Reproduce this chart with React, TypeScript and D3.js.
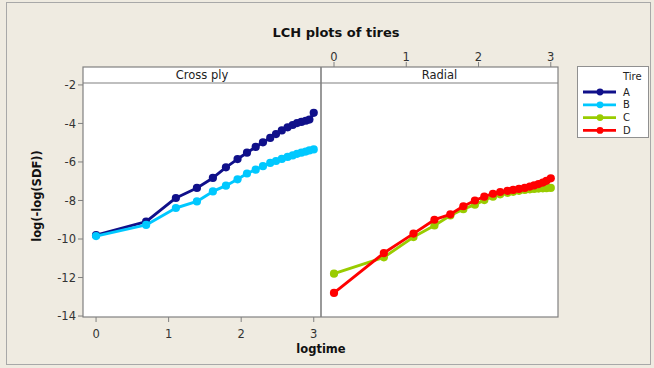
import * as d3 from "d3";

// logtime = ln(1..20)
const logtime = [0, 0.69, 1.1, 1.39, 1.61, 1.79, 1.95, 2.08, 2.2, 2.3, 2.4, 2.48, 2.56, 2.64, 2.71, 2.77, 2.83, 2.89, 2.94, 3.0];

const tireA = [-9.8, -9.1, -7.87, -7.35, -6.83, -6.28, -5.85, -5.52, -5.22, -4.98, -4.75, -4.55, -4.36, -4.2, -4.08, -3.98, -3.92, -3.86, -3.8, -3.45];
const tireB = [-9.85, -9.27, -8.39, -8.05, -7.53, -7.23, -6.9, -6.6, -6.4, -6.22, -6.05, -5.95, -5.84, -5.74, -5.66, -5.58, -5.52, -5.46, -5.4, -5.35];
const tireC = [-11.8, -10.95, -9.9, -9.3, -8.78, -8.45, -8.22, -7.98, -7.8, -7.68, -7.6, -7.55, -7.5, -7.45, -7.42, -7.4, -7.38, -7.37, -7.36, -7.35];
const tireD = [-12.8, -10.73, -9.72, -9.0, -8.72, -8.3, -8.0, -7.8, -7.65, -7.56, -7.5, -7.45, -7.4, -7.35, -7.28, -7.22, -7.15, -7.07, -6.98, -6.85];

const tires = ["A", "B", "C", "D"];
const tireColors = ["#10108a", "#00c8ff", "#99cc00", "#ff0000"];
const panels = ["Cross ply", "Radial"];
const panelSeries = [[tireA, tireB], [tireC, tireD]];
const panelTires = [[0, 1], [2, 3]];
const xTicks = [0, 1, 2, 3];
const yTicks = [-2, -4, -6, -8, -10, -12, -14];

const W = 654;
const H = 368;
const top = 67;
const stripH = 16;
const bottom = 317;
const panelX = [83, 321];
const panelW = [238, 237];
const font = "'DejaVu Sans', Verdana, sans-serif";
const axisGray = "#808080";
const labelColor = "#333";

export default function App() {
  const y = d3.scaleLinear().domain([-14.05, -1.9]).range([bottom, top + stripH]);
  const xs = panelX.map((px, i) =>
    d3.scaleLinear().domain([-0.18, 3.1]).range([px, px + panelW[i]])
  );
  const line = (sx: d3.ScaleLinear<number, number>) =>
    d3
      .line<number>()
      .x((_, i) => sx(logtime[i]))
      .y((d) => y(d));

  return (
    <svg width={W} height={H} style={{ position: "absolute", left: 0, top: 0 }} fontFamily={font}>
      <rect x={0} y={0} width={W} height={H} fill="#efebe1" />
      <rect x={6.5} y={2.5} width={644} height={362} fill="none" stroke="#a8a8a8" />
      <text x={336} y={37} textAnchor="middle" fontWeight="bold" fontSize={13} fill="#111">
        LCH plots of tires
      </text>

      {panels.map((name, p) => {
        const sx = xs[p];
        const x0 = panelX[p];
        const w = panelW[p];
        return (
          <g key={name}>
            <rect x={x0} y={top} width={w} height={bottom - top} fill="#fff" />
            <line x1={x0} x2={x0 + w} y1={top + stripH} y2={top + stripH} stroke={axisGray} strokeWidth={1.2} />
            <text x={x0 + w / 2} y={top + 12} textAnchor="middle" fontSize={11.5} fill="#222">
              {name}
            </text>
            {panelSeries[p].map((vals, k) => {
              const c = tireColors[panelTires[p][k]];
              return (
                <g key={k}>
                  <path d={line(sx)(vals) ?? ""} fill="none" stroke={c} strokeWidth={2.9} strokeLinejoin="round" />
                  {vals.map((v, i) => (
                    <circle key={i} cx={sx(logtime[i])} cy={y(v)} r={4.1} fill={c} />
                  ))}
                </g>
              );
            })}
          </g>
        );
      })}

      {/* frame */}
      <rect x={panelX[0]} y={top} width={panelX[1] + panelW[1] - panelX[0]} height={bottom - top} fill="none" stroke={axisGray} strokeWidth={1.2} />
      <line x1={panelX[1]} x2={panelX[1]} y1={top} y2={bottom} stroke={axisGray} strokeWidth={1.6} />

      {/* bottom x axis (Cross ply) */}
      {xTicks.map((t) => (
        <g key={"bx" + t}>
          <line x1={xs[0](t)} x2={xs[0](t)} y1={bottom} y2={bottom + 5} stroke={axisGray} />
          <text x={xs[0](t)} y={bottom + 21} textAnchor="middle" fontSize={11.5} fill={labelColor}>
            {t}
          </text>
        </g>
      ))}
      {/* top x axis (Radial) */}
      {xTicks.map((t) => (
        <g key={"tx" + t}>
          <line x1={xs[1](t)} x2={xs[1](t)} y1={top} y2={top - 5} stroke={axisGray} />
          <text x={xs[1](t)} y={top - 6} textAnchor="middle" fontSize={11.5} fill={labelColor}>
            {t}
          </text>
        </g>
      ))}
      {/* y axis */}
      {yTicks.map((t) => (
        <g key={"y" + t}>
          <line x1={panelX[0] - 5} x2={panelX[0]} y1={y(t)} y2={y(t)} stroke={axisGray} />
          <text x={panelX[0] - 7} y={y(t)} dy="0.38em" textAnchor="end" fontSize={11.5} fill={labelColor}>
            {t}
          </text>
        </g>
      ))}
      <text x={321} y={353} textAnchor="middle" fontWeight="bold" fontSize={11.5} fill="#111">
        logtime
      </text>
      <text
        transform={`translate(41,${(top + stripH + bottom) / 2 - 4}) rotate(-90)`}
        textAnchor="middle"
        fontWeight="bold"
        fontSize={11.5}
        fill="#111"
      >
        log(-log(SDF))
      </text>

      {/* legend */}
      <rect x={577.5} y={66.5} width={71} height={71} fill="#fff" stroke="#909090" />
      <text x={623} y={80} fontSize={10} fill="#222">
        Tire
      </text>
      {tires.map((t, i) => {
        const ly = 92 + i * 12.8;
        return (
          <g key={t}>
            <line x1={583} x2={616} y1={ly} y2={ly} stroke={tireColors[i]} strokeWidth={2.8} />
            <circle cx={600} cy={ly} r={3.4} fill={tireColors[i]} />
            <text x={623} y={ly} dy="0.36em" fontSize={10} fill="#222">
              {t}
            </text>
          </g>
        );
      })}
    </svg>
  );
}
